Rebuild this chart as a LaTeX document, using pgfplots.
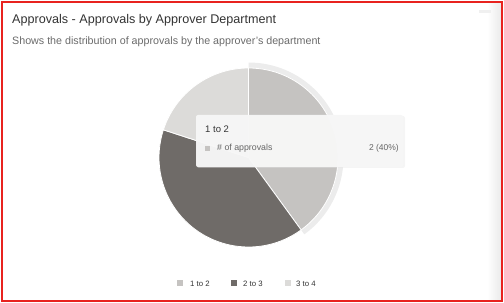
\documentclass[border=0pt]{standalone}
\usepackage{pgfplots}
\pgfplotsset{compat=1.18}
\usepackage{pgfplotstable}
\usepackage{fontspec}
\setmainfont{Liberation Sans}
\definecolor{cA}{HTML}{C5C3C1}
\definecolor{cB}{HTML}{6F6B68}
\definecolor{cC}{HTML}{DCDBD9}
\definecolor{halo}{HTML}{ECECEC}
\definecolor{frame}{HTML}{E8231F}
\definecolor{ttl}{HTML}{333333}
\definecolor{sub}{HTML}{6A6A6A}
\pgfplotstableread{
label value
{1 to 2} 2
{2 to 3} 2
{3 to 4} 1
}\piedata
\begin{document}
\begin{tikzpicture}
\useasboundingbox (0,0) rectangle (504bp,303bp);
\pgfplotstablegetelem{0}{value}\of\piedata \let\va\pgfplotsretval
\pgfplotstablegetelem{1}{value}\of\piedata \let\vb\pgfplotsretval
\pgfplotstablegetelem{2}{value}\of\piedata \let\vc\pgfplotsretval
\pgfmathsetmacro\tot{\va+\vb+\vc}
\pgfmathsetmacro\aA{90}
\pgfmathsetmacro\aB{\aA-360*\va/\tot}
\pgfmathsetmacro\aC{\aB-360*\vb/\tot}
\pgfmathsetmacro\aD{\aC-360*\vc/\tot}
\pgfmathtruncatemacro\pct{round(100*\va/\tot)}
\begin{axis}[
  at={(0,0)}, anchor=south west,
  width=504bp, height=303bp, scale only axis,
  xmin=0, xmax=504, ymin=0, ymax=303,
  hide axis, clip=false,
]
% right shadow strip
\fill[left color=white, right color=black!8] (axis cs:487,3) rectangle (axis cs:501,300);
\fill[black!6] (axis cs:479,290) rectangle (axis cs:491,293);
% titles
\node[anchor=base west, text=ttl, font=\fontsize{12.6bp}{14bp}\selectfont, inner sep=0] at (axis cs:12,279) {Approvals - Approvals by Approver Department};
\node[anchor=base west, text=sub, font=\fontsize{10.7bp}{12bp}\selectfont, inner sep=0] at (axis cs:12,258.5) {Shows the distribution of approvals by the approver's department};
% halo of hovered slice
\fill[halo] (axis cs:248.5,145.5) -- ([shift={(\aA:95bp)}]axis cs:248.5,145.5) arc[start angle=\aA, end angle=\aB, radius=95bp] -- cycle;
% slices
\filldraw[fill=cA, draw=white, line width=0.8bp] (axis cs:248.5,145.5) -- ([shift={(\aA:89.5bp)}]axis cs:248.5,145.5) arc[start angle=\aA, end angle=\aB, radius=89.5bp] -- cycle;
\filldraw[fill=cB, draw=white, line width=0.8bp] (axis cs:248.5,145.5) -- ([shift={(\aB:89.5bp)}]axis cs:248.5,145.5) arc[start angle=\aB, end angle=\aC, radius=89.5bp] -- cycle;
\filldraw[fill=cC, draw=white, line width=0.8bp] (axis cs:248.5,145.5) -- ([shift={(\aC:89.5bp)}]axis cs:248.5,145.5) arc[start angle=\aC, end angle=\aD, radius=89.5bp] -- cycle;
% tooltip
\fill[black!10, opacity=0.4, rounded corners=2bp] (axis cs:197,135) rectangle (axis cs:405,187);
\fill[fill=white!97!black, fill opacity=0.95, rounded corners=2bp] (axis cs:196,136) rectangle (axis cs:403,188);
\node[anchor=base west, text=ttl, font=\fontsize{9.5bp}{11bp}\selectfont, inner sep=0] at (axis cs:205,170) {\pgfplotstablegetelem{0}{label}\of\piedata\pgfplotsretval};
\fill[cA] (axis cs:205,152) rectangle (axis cs:210,157);
\node[anchor=base west, text=black!60, font=\fontsize{8.8bp}{10bp}\selectfont, inner sep=0] at (axis cs:217,152) {\# of approvals};
\node[anchor=base east, text=black!60, font=\fontsize{8.5bp}{10bp}\selectfont, inner sep=0] at (axis cs:399,152) {\va\ (\pct\%)};
% legend
\fill[cA] (axis cs:177,17) rectangle (axis cs:183,23);
\node[anchor=base west, text=ttl, font=\fontsize{7.8bp}{9bp}\selectfont, inner sep=0] at (axis cs:190,17) {1 to 2};
\fill[cB] (axis cs:231,17) rectangle (axis cs:237,23);
\node[anchor=base west, text=ttl, font=\fontsize{7.8bp}{9bp}\selectfont, inner sep=0] at (axis cs:243,17) {2 to 3};
\fill[cC] (axis cs:285,17) rectangle (axis cs:291,23);
\node[anchor=base west, text=ttl, font=\fontsize{7.8bp}{9bp}\selectfont, inner sep=0] at (axis cs:296,17) {3 to 4};
% frame
\draw[frame, line width=1.6bp] (axis cs:2,2) rectangle (axis cs:502,301);
\end{axis}
\end{tikzpicture}
\end{document}
